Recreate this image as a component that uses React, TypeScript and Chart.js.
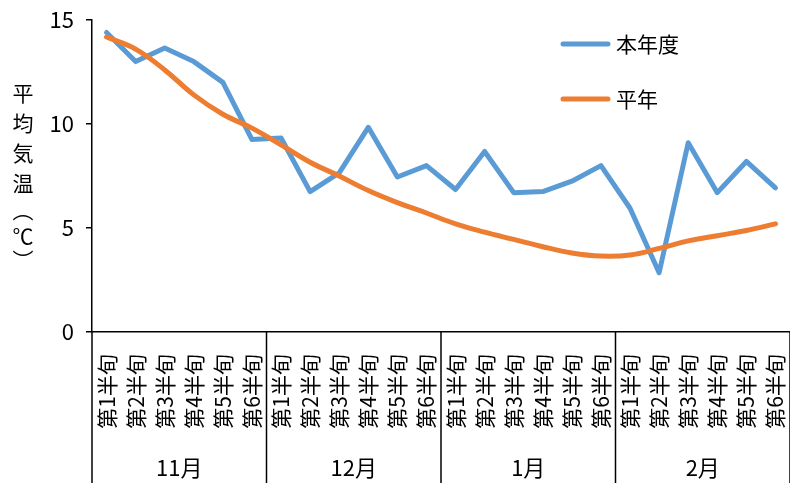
import React, { useEffect, useRef } from "react";
import { Chart, registerables } from "chart.js";

Chart.register(...registerables);

const months = ["11月", "12月", "1月", "2月"];
const halves = ["第1半旬", "第2半旬", "第3半旬", "第4半旬", "第5半旬", "第6半旬"];
const categories = months.flatMap(() => halves);
const thisYear = [
  14.4, 13.0, 13.65, 13.0, 12.0, 9.25,
  9.33, 6.75, 7.65, 9.84, 7.45, 8.0,
  6.85, 8.68, 6.7, 6.75, 7.25, 8.0,
  5.95, 2.85, 9.1, 6.7, 8.2, 6.93,
];
const normal = [
  14.18, 13.6, 12.6, 11.4, 10.47, 9.8,
  9.0, 8.16, 7.5, 6.8, 6.22, 5.72,
  5.2, 4.8, 4.45, 4.1, 3.8, 3.65,
  3.7, 4.02, 4.38, 4.63, 4.88, 5.2,
];
const seriesNames = ["本年度", "平年"];
const yTicks = [0, 5, 10, 15];
const yTitleChars = ["平", "均", "気", "温", "︵", "℃", "︶"];

const BLUE = "#5B9BD5";
const ORANGE = "#ED7D31";
const FONT = "'Noto Sans CJK JP', 'Noto Sans', sans-serif";

export default function App() {
  const ref = useRef<HTMLCanvasElement | null>(null);

  useEffect(() => {
    if (!ref.current) return;
    const overlay = {
      id: "overlay",
      afterDraw(chart: any) {
        const ctx = chart.ctx;
        const x = chart.scales.x;
        const area = chart.chartArea;
        ctx.save();
        // month separators
        ctx.strokeStyle = "#000";
        ctx.lineWidth = 1.5;
        const step = x.getPixelForValue(1) - x.getPixelForValue(0);
        for (let m = 0; m <= months.length; m++) {
          const px = x.getPixelForValue(m * 6) - step / 2;
          ctx.beginPath();
          ctx.moveTo(px, area.bottom);
          ctx.lineTo(px, chart.height);
          ctx.stroke();
        }
        // month labels
        ctx.fillStyle = "#000";
        ctx.font = `22px ${FONT}`;
        ctx.textAlign = "center";
        ctx.textBaseline = "middle";
        months.forEach((m, i) => {
          const cx = (x.getPixelForValue(i * 6) + x.getPixelForValue(i * 6 + 5)) / 2;
          ctx.fillText(m, cx, 468);
        });
        // y title
        ctx.font = `21px ${FONT}`;
        const ys = [93, 123, 153, 183, 210, 236, 260];
        yTitleChars.forEach((c, i) => ctx.fillText(c, 23, ys[i]));
        // legend
        const colors = [BLUE, ORANGE];
        const ly = [44, 99];
        seriesNames.forEach((n, i) => {
          ctx.strokeStyle = colors[i];
          ctx.lineWidth = 5;
          ctx.lineCap = "round";
          ctx.beginPath();
          ctx.moveTo(563, ly[i]);
          ctx.lineTo(608, ly[i]);
          ctx.stroke();
          ctx.fillStyle = "#000";
          ctx.textAlign = "left";
          ctx.font = `21px ${FONT}`;
          ctx.fillText(n, 616, ly[i]);
        });
        ctx.restore();
      },
    };

    const chart = new Chart(ref.current, {
      type: "line",
      data: {
        labels: categories,
        datasets: [
          {
            label: seriesNames[0],
            data: thisYear,
            borderColor: BLUE,
            backgroundColor: BLUE,
            borderWidth: 5,
            pointRadius: 0,
            tension: 0,
            borderJoinStyle: "round",
            borderCapStyle: "round",
            order: 2,
          },
          {
            label: seriesNames[1],
            data: normal,
            borderColor: ORANGE,
            backgroundColor: ORANGE,
            borderWidth: 5,
            pointRadius: 0,
            tension: 0.4,
            borderJoinStyle: "round",
            borderCapStyle: "round",
            order: 1,
          },
        ],
      },
      options: {
        animation: false,
        responsive: true,
        maintainAspectRatio: false,
        layout: { padding: { top: 20, right: 0, left: 0, bottom: 0 } },
        plugins: {
          legend: { display: false },
          tooltip: { enabled: false },
        },
        scales: {
          x: {
            type: "category",
            offset: true,
            grid: { display: false },
            border: { display: true, color: "#000", width: 1.5 },
            ticks: {
              autoSkip: false,
              maxRotation: 90,
              minRotation: 90,
              padding: 14,
              color: "#000",
              font: { family: FONT, size: 21 },
            },
            afterFit(scale: any) {
              scale.height = 151;
              scale.paddingRight = 0;
              scale.paddingLeft = 0;
            },
          },
          y: {
            min: 0,
            max: 15,
            afterBuildTicks(scale: any) {
              scale.ticks = yTicks.map((v) => ({ value: v }));
            },
            grid: {
              drawOnChartArea: false,
              drawTicks: true,
              tickLength: 6,
              color: "#000",
              lineWidth: 1.5,
            },
            border: { display: true, color: "#000", width: 1.5 },
            ticks: {
              padding: 12,
              color: "#000",
              font: { family: FONT, size: 22 },
            },
            afterFit(scale: any) {
              scale.width = 92;
              scale.paddingTop = 0;
              scale.paddingBottom = 0;
            },
          },
        },
      },
      plugins: [overlay],
    });
    return () => chart.destroy();
  }, []);

  return (
    <div style={{ position: "absolute", left: 0, top: 0, width: 790, height: 483, background: "#fff" }}>
      <canvas ref={ref} />
    </div>
  );
}
